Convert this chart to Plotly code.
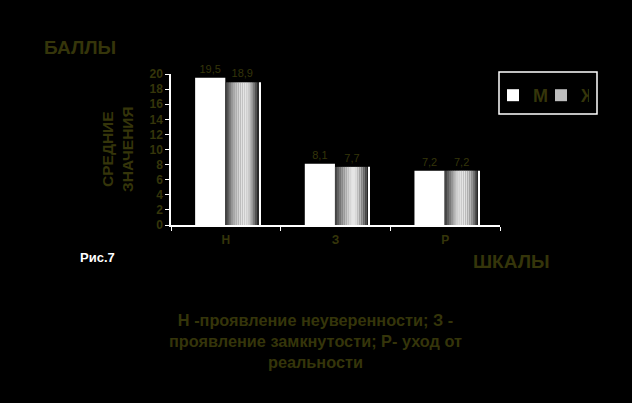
import math
import plotly.graph_objects as go

categories = ["Н", "З", "Р"]
male = [19.5, 8.1, 7.2]
female = [18.9, 7.7, 7.2]
yticks = [0, 2, 4, 6, 8, 10, 12, 14, 16, 18, 20]

OLIVE = "#35350a"
FONT = "Liberation Sans, Arial, sans-serif"

fig = go.Figure()

# М bar (white)
fig.add_trace(go.Bar(
    x=categories, y=male, name="М",
    offset=-0.28, width=0.275,
    marker=dict(color="white", line=dict(width=0)),
    texttemplate="%{y:.1f}", textposition="outside",
    textfont=dict(color=OLIVE, size=11, family=FONT),
    cliponaxis=False,
))

# Ж bar drawn as vertical strips to imitate the cylinder gradient
N = 18
w0, wtot = -0.005, 0.31
for i in range(N):
    t = (i + 0.5) / N
    if t < 0.55:
        v = 55 + 175 * math.sin(t / 0.55 * math.pi / 2)
    else:
        v = 20 + 210 * math.cos((t - 0.55) / 0.45 * math.pi / 2)
    g = int(max(0, min(255, v)))
    fig.add_trace(go.Bar(
        x=categories, y=female, showlegend=False,
        offset=w0 + i * wtot / N, width=wtot / N + 0.002,
        marker=dict(color=f"rgb({g},{g},{g})", line=dict(width=0)),
        hoverinfo="skip",
    ))

# right white edge of the Ж bar
fig.add_trace(go.Bar(
    x=categories, y=female, showlegend=False,
    offset=w0 + wtot, width=0.008,
    marker=dict(color="white", line=dict(width=0)), hoverinfo="skip",
))

# labels for Ж
fig.add_trace(go.Bar(
    x=categories, y=female, showlegend=False,
    offset=w0, width=wtot,
    marker=dict(color="rgba(0,0,0,0)", line=dict(width=0)),
    texttemplate="%{y:.1f}", textposition="outside",
    textfont=dict(color=OLIVE, size=11, family=FONT),
    cliponaxis=False, hoverinfo="skip",
))

# legend entry for Ж
fig.add_trace(go.Bar(
    x=[None], y=[None], name="Ж",
    marker=dict(color="#bdbdbd", line=dict(width=0)),
))

def px(x):
    return (x - 171) / 329

def py(y):
    return (225 - y) / 151

fig.update_layout(
    width=632, height=403,
    paper_bgcolor="black", plot_bgcolor="black",
    barmode="overlay",
    separators=", ",
    margin=dict(l=171, r=132, t=74, b=178, autoexpand=False),
    font=dict(family=FONT, color=OLIVE),
    showlegend=True,
    legend=dict(
        orientation="h", x=px(493), y=py(77),
        xanchor="left", yanchor="top",
        bgcolor="rgba(0,0,0,0)", borderwidth=0,
        font=dict(size=18, color=OLIVE, family=FONT, weight="bold"),
        entrywidth=3, entrywidthmode="pixels", traceorder="normal",
    ),
    xaxis=dict(
        type="category", range=[-0.5, 2.5],
        showline=True, linecolor="white", linewidth=2,
        ticks="outside", tickson="boundaries", tickcolor="white", ticklen=4,
        tickfont=dict(size=12, color=OLIVE, family=FONT, weight="bold"),
        ticklabelstandoff=3,
        showgrid=False, zeroline=False,
    ),
    yaxis=dict(
        range=[0, 20], tickvals=yticks,
        showline=True, linecolor="white", linewidth=1.5,
        ticks="outside", tickcolor="white", ticklen=4,
        tickfont=dict(size=12, color=OLIVE, family=FONT, weight="bold"),
        showgrid=False, zeroline=False,
    ),
)

# legend frame
fig.add_shape(type="rect", xref="paper", yref="paper",
              x0=px(499), x1=px(597), y0=py(114), y1=py(72),
              line=dict(color="white", width=1.5), fillcolor="rgba(0,0,0,0)")

ann = [
    dict(text="БАЛЛЫ", x=px(80.5), y=py(47), size=19, color=OLIVE, angle=0),
    dict(text="СРЕДНИЕ<br>ЗНАЧЕНИЯ", x=px(117), y=py(149), size=15.5, color=OLIVE, angle=-90),
    dict(text="Рис.7", x=px(97), y=py(257), size=13, color="white", angle=0),
    dict(text="ШКАЛЫ", x=px(512), y=py(261), size=19, color=OLIVE, angle=0),
    dict(text="Н -проявление неуверенности; З -<br>проявление замкнутости; Р- уход от<br>реальности",
         x=px(315), y=py(341), size=16.3, color=OLIVE, angle=0),
]
for a in ann:
    fig.add_annotation(
        text=a["text"], x=a["x"], y=a["y"], xref="paper", yref="paper",
        xanchor="center", yanchor="middle", showarrow=False, align="center",
        textangle=a["angle"],
        font=dict(size=a["size"], color=a["color"], family=FONT, weight="bold"),
    )

fig.write_html(
    "out.html",
    config={"displayModeBar": False},
    post_script="document.body.style.margin='0';document.body.style.background='black';",
)
